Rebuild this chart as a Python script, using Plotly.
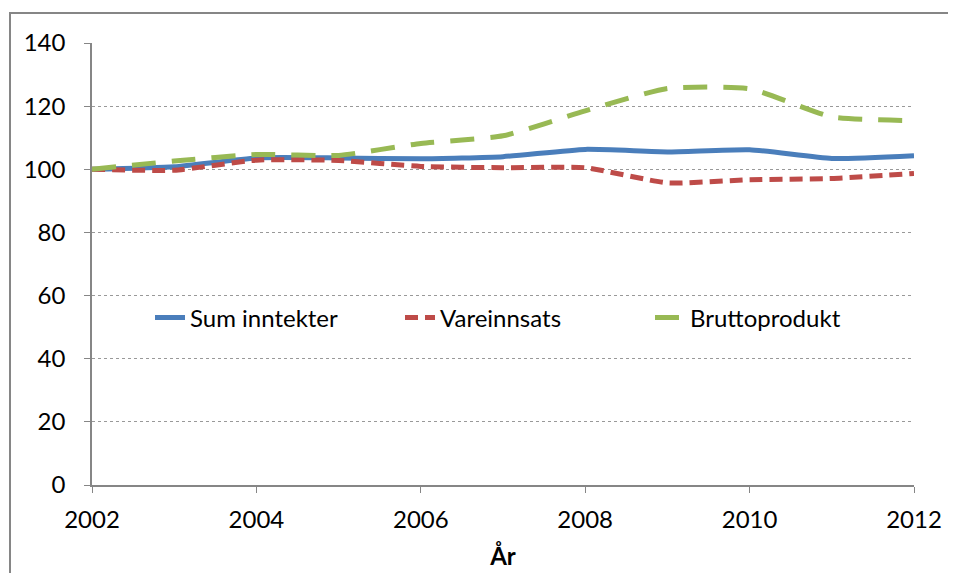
import plotly.graph_objects as go

years = [2002, 2003, 2004, 2005, 2006, 2007, 2008, 2009, 2010, 2011, 2012]
sum_inntekter = [100, 100.8, 103.6, 103.6, 103.3, 104.0, 106.3, 105.5, 106.2, 103.4, 104.3]
vareinnsats = [100, 99.7, 102.9, 102.8, 100.9, 100.5, 100.5, 95.7, 96.7, 97.1, 98.7]
bruttoprodukt = [100, 102.6, 104.7, 104.4, 108.2, 110.6, 118.5, 125.6, 125.5, 116.6, 115.4]

names = ["Sum inntekter", "Vareinnsats", "Bruttoprodukt"]
colors = ["#4A7EBB", "#BE4B48", "#98B954"]
dashes = ["solid", "13px,7px", "24px,16px"]

fig = go.Figure()
for name, vals, c, d in zip(names, [sum_inntekter, vareinnsats, bruttoprodukt], colors, dashes):
    fig.add_trace(go.Scatter(x=years, y=vals, name=name, mode="lines",
                             line=dict(color=c, width=5, dash=d, shape="spline", smoothing=0.5)))

font = "Lato, 'Open Sans', sans-serif"
fig.update_layout(
    width=940, height=565,
    margin=dict(l=84, r=34, t=35, b=88),
    paper_bgcolor="white", plot_bgcolor="white",
    font=dict(family=font, size=24, color="black"),
    showlegend=True,
    legend=dict(orientation="h", x=0.5 + 22/822, xanchor="center", y=0.378, yanchor="middle",
                bgcolor="rgba(0,0,0,0)", font=dict(size=24), tracegroupgap=0,
                entrywidth=205, entrywidthmode="pixels"),
    xaxis=dict(range=[2002, 2012], tickvals=[2002, 2004, 2006, 2008, 2010, 2012],
               showline=True, linecolor="#868686", linewidth=1.5,
               ticks="outside", ticklen=6, tickcolor="#868686", showgrid=False,
               ticklabelstandoff=6, automargin=False,
               zeroline=False, title=dict(text="<b>År</b>", font=dict(size=24), standoff=17)),
    yaxis=dict(range=[0, 140], tickvals=[0, 20, 40, 60, 80, 100, 120, 140],
               showline=True, linecolor="#868686", linewidth=1.5,
               ticks="outside", ticklen=6, tickcolor="#868686",
               ticklabelstandoff=14, automargin=False,
               showgrid=True, gridcolor="#999999", griddash="dot", gridwidth=1,
               zeroline=False),
)
fig.add_shape(type="rect", xref="paper", yref="paper",
              x0=-82/822, y0=-1, x1=2, y1=1 + 30/442,
              line=dict(color="#868686", width=2), layer="below")
fig.write_html("out.html")
